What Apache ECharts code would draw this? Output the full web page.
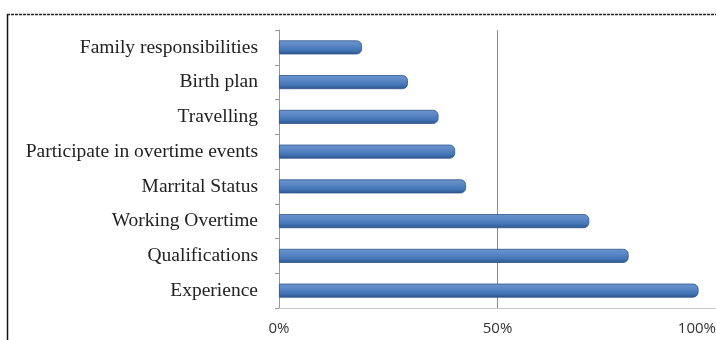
<!DOCTYPE html>
<html><head><meta charset="utf-8">
<script src="https://cdn.jsdelivr.net/npm/echarts@6/dist/echarts.min.js"></script>
<style>html,body{margin:0;padding:0;background:#fff;overflow:hidden}#c{width:716px;height:340px}</style>
</head><body><div id="c"></div>
<script>
const categories = ["Family responsibilities","Birth plan","Travelling","Participate in overtime events","Marrital Status","Working Overtime","Qualifications","Experience"];
const values = [19, 29.5, 36.5, 40.3, 42.8, 71, 80, 96];
const tickLabels = ["0%","50%","100%"];

const chart = echarts.init(document.getElementById('c'));
chart.setOption({
  animation: false,
  grid: {left: 279, right: 0, top: 30, bottom: 32, outerBoundsMode: 'none', containLabel: false},
  graphic: [
    {type:'line', shape:{x1:7.5,y1:14,x2:7.5,y2:340}, style:{stroke:'#111', lineWidth:1.5}},
    {type:'line', shape:{x1:7,y1:14.5,x2:716,y2:14.5}, style:{stroke:'#222', lineWidth:1.5, lineDash:[3,1]}}
  ],
  xAxis: {
    type:'value', min:0, max:100, interval:50,
    axisLine:{show:true, lineStyle:{color:'#c8c8c8'}},
    axisTick:{show:false},
    splitLine:{show:true, lineStyle:{color:'#8a8a8a', width:1}},
    axisLabel:{color:'#333', fontFamily:'Open Sans', fontSize:15, margin:13, hideOverlap:false,
      alignMaxLabel:'right',
      formatter:(v)=>tickLabels[Math.round(v/50)]}
  },
  yAxis: {
    type:'category', data:categories, inverse:true,
    axisLine:{show:true, lineStyle:{color:'#999'}},
    axisTick:{show:true, length:4, lineStyle:{color:'#999'}},
    axisLabel:{color:'#222', fontFamily:'Liberation Serif', fontSize:19.5, margin:21}
  },
  series: [{
    type:'bar', data:values, barWidth:14,
    itemStyle:{
      borderRadius:[0,5,5,0],
      borderColor:'#2f5488', borderWidth:0.8,
      color:{type:'linear',x:0,y:0,x2:0,y2:1,colorStops:[
        {offset:0,color:'#6d95cc'},{offset:0.35,color:'#5b87c6'},{offset:0.7,color:'#4475b5'},{offset:1,color:'#2c558e'}]}
    }
  }]
});
</script></body></html>
